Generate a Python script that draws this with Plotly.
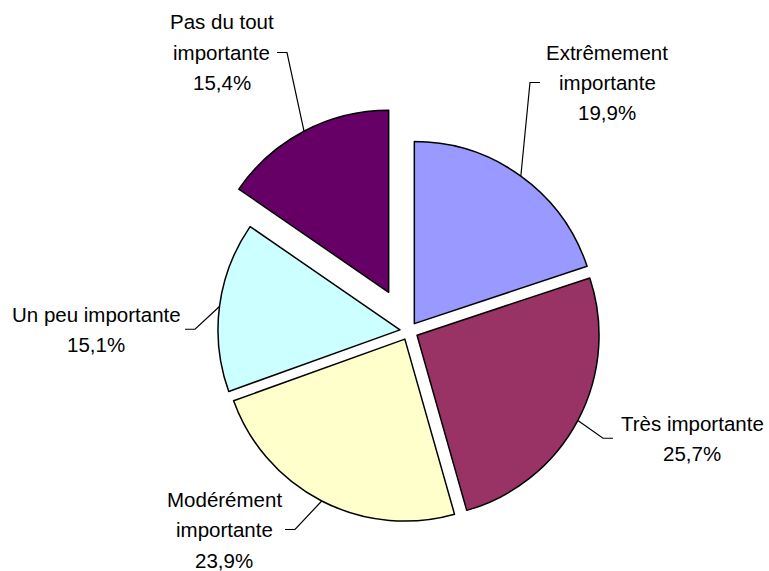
import math
import plotly.graph_objects as go

# ---- data ----
categories = ["Extrêmement importante", "Très importante", "Modérément importante",
              "Un peu importante", "Pas du tout importante"]
label_lines = [["Extrêmement", "importante"], ["Très importante"],
               ["Modérément", "importante"], ["Un peu importante"],
               ["Pas du tout", "importante"]]
values = [19.9, 25.7, 23.9, 15.1, 15.4]
colors = ["#9999FF", "#993366", "#FFFFCC", "#CCFFFF", "#660066"]
pulls = [0.05, 0.05, 0.05, 0.05, 0.24]

# ---- layout constants (pixels) ----
W, H = 769, 571
CX, CY, R = 409, 331, 182
FONT = dict(family="Liberation Sans, Arial, sans-serif", size=20.5, color="black")
LINE_GAP = 30.5
# label block: centre x, first line y, dash outer x, side (+1 dash goes right of text)
label_layout = [
    dict(x=607, y=52, dash_x=540, side=-1),
    dict(x=692, y=423, dash_x=613, side=-1),
    dict(x=224, y=499, dash_x=285, side=1),
    dict(x=96, y=314, dash_x=185, side=1),
    dict(x=222, y=22, dash_x=277, side=1),
]

maxpull = max(pulls)
D = 2 * R * (1 + maxpull)
dom_x = [(CX - D / 2) / W, (CX + D / 2) / W]
dom_y = [1 - (CY + D / 2) / H, 1 - (CY - D / 2) / H]

fig = go.Figure(go.Pie(
    labels=categories, values=values, sort=False, direction="clockwise", rotation=0,
    pull=pulls, marker=dict(colors=colors, line=dict(color="black", width=1.5)),
    textinfo="none", hoverinfo="label+percent", domain=dict(x=dom_x, y=dom_y),
))

def px(x):
    return x / W

def py(y):
    return 1 - y / H

annotations = []
shapes = []
total = sum(values)
cum = 0.0
for i, v in enumerate(values):
    mid = (cum + v / 2) / total * 2 * math.pi
    cum += v
    ax_ = CX + R * (1 + pulls[i]) * math.sin(mid)
    ay_ = CY - R * (1 + pulls[i]) * math.cos(mid)
    lay = label_layout[i]
    lines = label_lines[i] + [f"{v:.1f}".replace(".", ",") + "%"]
    for k, t in enumerate(lines):
        annotations.append(dict(x=px(lay["x"]), y=py(lay["y"] + k * LINE_GAP), xref="paper", yref="paper",
                                text=t, showarrow=False, xanchor="center", yanchor="middle", font=FONT))
    dy = lay["y"] + (len(lines) - 1) * LINE_GAP / 2
    x0 = lay["dash_x"]
    x1 = x0 + 10 * lay["side"]
    shapes.append(dict(type="path", xref="paper", yref="paper",
                       path=f"M {px(x0)},{py(dy)} L {px(x1)},{py(dy)} L {px(ax_)},{py(ay_)}",
                       line=dict(color="black", width=1.2)))

fig.update_layout(width=W, height=H, margin=dict(l=0, r=0, t=0, b=0), showlegend=False,
                  paper_bgcolor="white", plot_bgcolor="white",
                  annotations=annotations, shapes=shapes)
fig.write_html("out.html", config={"displayModeBar": False})

# remove the browser's default page margin so the figure sits at the window origin
with open("out.html", "r", encoding="utf-8") as f:
    html = f.read()
html = html.replace("<head>", "<head><style>html,body{margin:0;padding:0;overflow:hidden;}</style>", 1)
with open("out.html", "w", encoding="utf-8") as f:
    f.write(html)
